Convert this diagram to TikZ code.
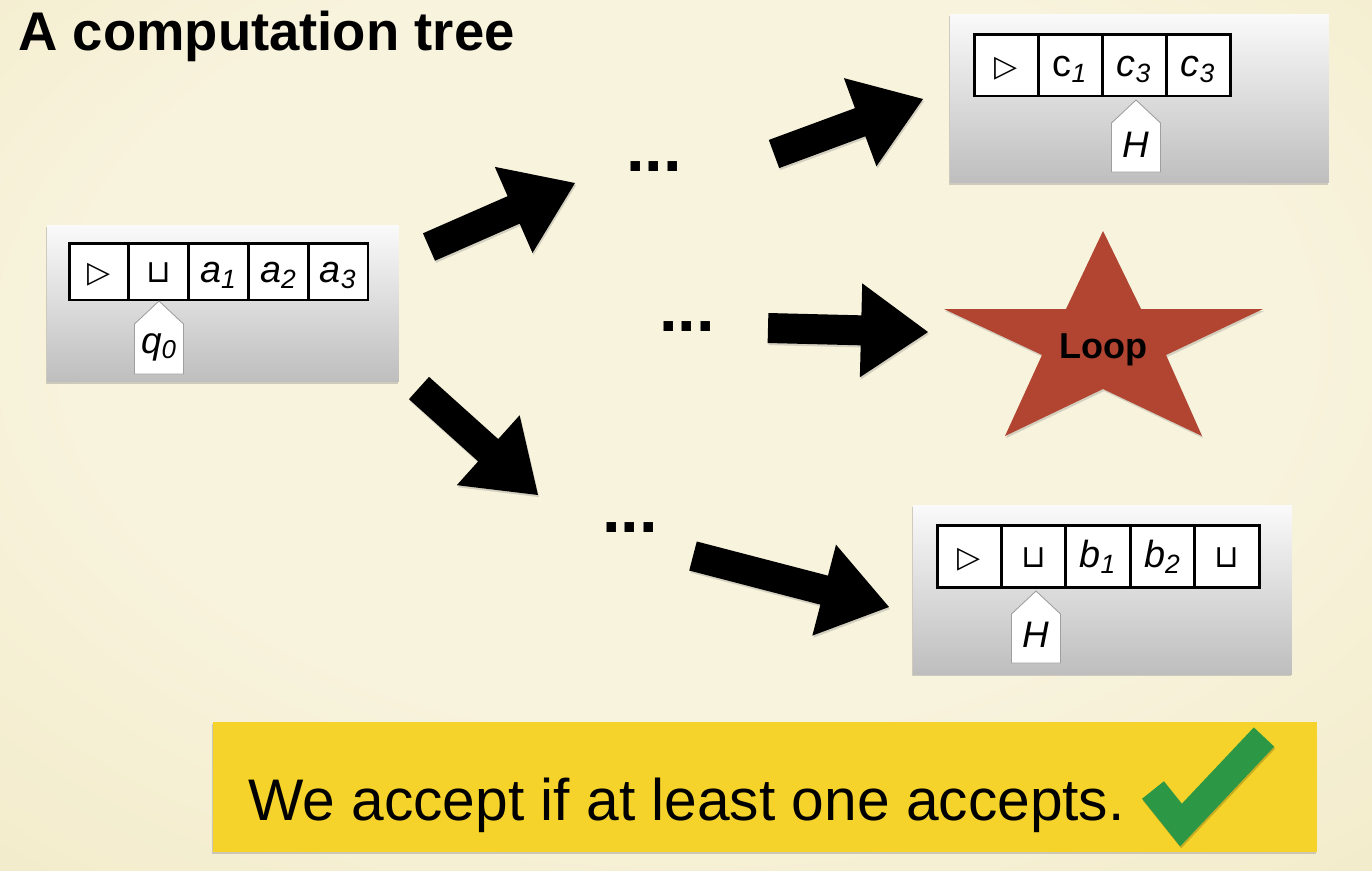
\documentclass[tikz,border=0pt]{standalone}
\usepackage{fontspec}
\setmainfont{Liberation Sans}
\newfontfamily\symfont{DejaVu Sans}
\usetikzlibrary{calc,shadows}
\definecolor{bgin}{RGB}{248,243,221}
\definecolor{bgout}{RGB}{232,220,166}
\definecolor{boxtop}{RGB}{250,250,250}
\definecolor{boxbot}{RGB}{190,190,190}
\definecolor{starred}{RGB}{178,68,50}
\definecolor{noteyellow}{RGB}{245,211,42}
\definecolor{checkgreen}{RGB}{44,152,70}
\pgfdeclareradialshading{bgshade}{\pgfpoint{0bp}{8bp}}{color(0bp)=(bgin); color(22bp)=(bgin); color(72bp)=(bgout)}
\newcommand{\trisym}{{\symfont\fontsize{17}{17}\selectfont ▷}}
\newcommand{\cupsym}{{\symfont\fontsize{18}{18}\selectfont ⊔}}
\newcommand{\headshape}[3]{%
  \filldraw[headp] ({#1-24.5},{#2+23}) -- (#1,#2) -- ({#1+24.5},{#2+23}) -- ({#1+24.5},#3) -- ({#1-24.5},#3) -- cycle;}
\newcommand{\blockarr}[2]{%
  \path ($(#2)!1.34cm!(#1)$) coordinate (#1h);
  \fill[blockarrow] ($(#1)!0.3cm!90:(#2)$) -- ($(#1h)!0.3cm!90:(#2)$) -- ($(#1h)!0.94cm!90:(#2)$) -- (#2)
    -- ($(#1h)!0.94cm!-90:(#2)$) -- ($(#1h)!0.3cm!-90:(#2)$) -- ($(#1)!0.3cm!-90:(#2)$) -- cycle;}
\begin{document}
\begin{tikzpicture}[x=0.02cm,y=-0.02cm,
  cell/.style={draw, line width=1.7pt, fill=white, inner sep=0pt, text height=13pt, text depth=0pt,
    font=\fontsize{21.5}{24}\selectfont},
  tbox/.style={shading=axis, top color=boxtop, bottom color=boxbot, draw=none,
    drop shadow={shadow xshift=-0.8pt, shadow yshift=-1.4pt, opacity=0.35}},
  headp/.style={fill=white, draw=gray!75, line width=0.5pt},
  headtxt/.style={anchor=base, inner sep=0pt, font=\fontsize{21}{24}\selectfont\itshape},
  blockarrow/.style={fill=black, drop shadow={shadow xshift=0.6pt, shadow yshift=-1.2pt, opacity=0.3}},
  dotstxt/.style={anchor=base, inner sep=0pt, font=\fontsize{38}{40}\selectfont\bfseries},
  checkstroke/.style={line width=0.56cm, line join=miter, line cap=butt},
]
\useasboundingbox (0,0) rectangle (1372,870);
\shade[shading=bgshade] (0,0) rectangle (1372,870);

% title
\node[anchor=base west, inner sep=0pt, font=\fontsize{31}{36}\selectfont\bfseries] (title) at (18,50) {A computation tree};

% configuration boxes
\node[tbox, minimum width=7.04cm, minimum height=3.14cm] (box1) at (223,303.5) {};
\node[tbox, minimum width=7.58cm, minimum height=3.38cm] (box2) at (1139.5,98.5) {};
\node[tbox, minimum width=7.58cm, minimum height=3.38cm] (box3) at (1102.5,589.5) {};

% tapes
\foreach \c [count=\i] in {\trisym, \cupsym, {\itshape a\textsubscript{1}}, {\itshape a\textsubscript{2}}, {\itshape a\textsubscript{3}}}
  \node[cell, minimum width=1.196cm, minimum height=1.14cm] (ta\i) at ({69+59.8*(\i-0.5)},271.5) {\c};
\foreach \c [count=\i] in {\trisym, {c\textsubscript{\itshape 1}}, {\itshape c\textsubscript{3}}, {\itshape c\textsubscript{3}}}
  \node[cell, minimum width=1.28cm, minimum height=1.24cm] (tb\i) at ({974+64*(\i-0.5)},65) {\c};
\foreach \c [count=\i] in {\trisym, \cupsym, {\itshape b\textsubscript{1}}, {\itshape b\textsubscript{2}}, \cupsym}
  \node[cell, minimum width=1.288cm, minimum height=1.24cm] (tc\i) at ({937+64.4*(\i-0.5)},556) {\c};

% heads
\headshape{159}{301}{374}
\node[headtxt] (h1) at (159,353) {q\textsubscript{0}};
\headshape{1136}{100}{172}
\node[headtxt] (h2) at (1136,157) {H};
\headshape{1036}{591}{663}
\node[headtxt] (h3) at (1036,647) {H};

% dots
\node[dotstxt] (d1) at (654,171.5) {...};
\node[dotstxt] (d2) at (687,331.5) {...};
\node[dotstxt] (d3) at (630,532) {...};

% arrows
\coordinate (a1s) at (429,247);  \coordinate (a1e) at (575,183);
\coordinate (a2s) at (774,154);  \coordinate (a2e) at (923,99);
\coordinate (a3s) at (419,388);  \coordinate (a3e) at (538,495);
\coordinate (a4s) at (768,328);  \coordinate (a4e) at (928,332);
\coordinate (a5s) at (693,556);  \coordinate (a5e) at (889,607);
\blockarr{a1s}{a1e}
\blockarr{a2s}{a2e}
\blockarr{a3s}{a3e}
\blockarr{a4s}{a4e}
\blockarr{a5s}{a5e}

% star
\fill[starred, drop shadow={shadow xshift=0.6pt, shadow yshift=-1.2pt, opacity=0.3}]
  (1103,231) -- (1141,309) -- (1263,309) -- (1166,355) -- (1202,436) -- (1103,389)
  -- (1005,436) -- (1042,355) -- (944,309) -- (1066,309) -- cycle;
\node[anchor=base, inner sep=0pt, font=\fontsize{20.5}{22}\selectfont\bfseries] (loop) at (1103,358) {Loop};

% note
\node[fill=noteyellow, minimum width=22.08cm, minimum height=2.6cm, inner sep=0pt,
  drop shadow={shadow xshift=-0.8pt, shadow yshift=-1.4pt, opacity=0.35}] (note) at (765,787) {};
\node[anchor=base west, inner sep=0pt, font=\fontsize{33.4}{40}\selectfont] (notetxt) at (248,820) {We accept if at least one accepts.};
\draw[checkstroke, black, opacity=0.18] (1154,792) -- (1182,827) -- (1265,739);
\draw[checkstroke, checkgreen] (1153,790) -- (1181,825) -- (1264,737);
\end{tikzpicture}
\end{document}
